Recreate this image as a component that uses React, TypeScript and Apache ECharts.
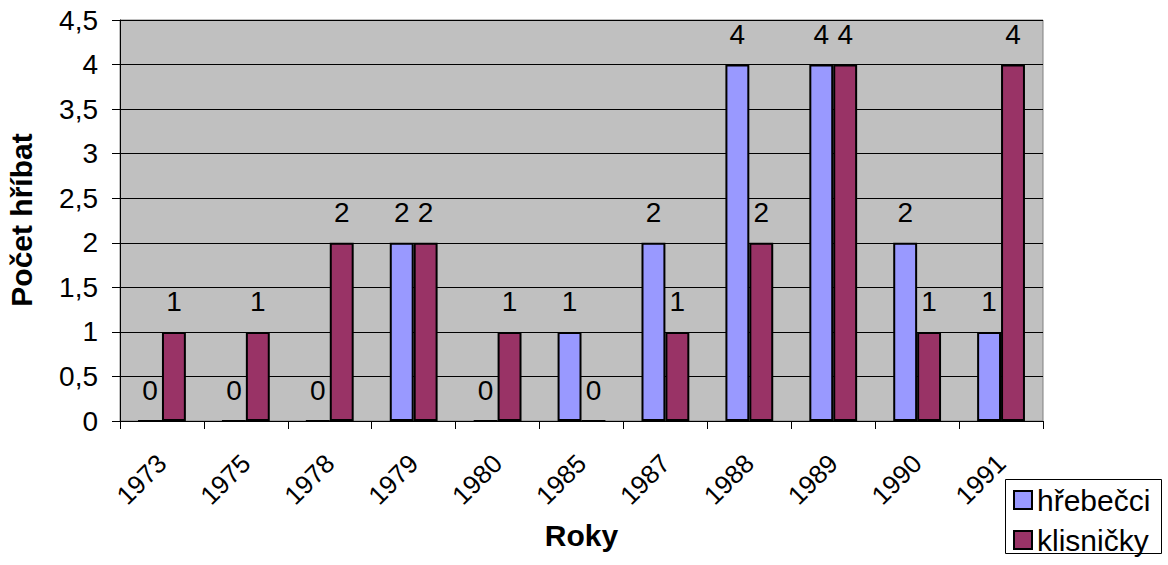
import React, { useEffect, useRef } from "react";
import * as echarts from "echarts";

const categories = ["1973", "1975", "1978", "1979", "1980", "1985", "1987", "1988", "1989", "1990", "1991"];
const hrebecci = [0, 0, 0, 2, 0, 1, 2, 4, 4, 2, 1];
const klisnicky = [1, 1, 2, 2, 1, 0, 1, 2, 4, 1, 4];
const seriesNames = ["hřebečci", "klisničky"];
const xTitle = "Roky";
const yTitle = "Počet hříbat";

const FONT = "'Liberation Sans', Arial, sans-serif";

export default function App() {
  const ref = useRef<HTMLDivElement>(null);
  useEffect(() => {
    document.body.style.margin = "0";
    if (!ref.current) return;
    const chart = echarts.init(ref.current, undefined, { renderer: "svg" });
    const label = {
      show: true,
      position: "top" as const,
      distance: 16,
      color: "#000",
      fontSize: 28,
      fontFamily: FONT,
    };
    chart.setOption({
      animation: false,
      backgroundColor: "#fff",
      textStyle: { fontFamily: FONT },
      grid: {
        left: 120,
        top: 20,
        width: 923,
        height: 401,
        show: true,
        backgroundColor: "#c0c0c0",
        borderColor: "#808080",
        borderWidth: 1,
      },
      legend: {
        orient: "vertical",
        left: 1005,
        top: 479,
        padding: [6, 8, 0, 8],
        itemGap: 10,
        itemWidth: 18,
        itemHeight: 18,
        icon: "rect",
        textStyle: { fontSize: 30, lineHeight: 30, color: "#000", fontFamily: FONT },
        data: seriesNames,
      },
      graphic: [
        {
          type: "rect",
          z: 0,
          shape: { x: 1005.5, y: 479.5, width: 156, height: 74 },
          style: { fill: "#fff", stroke: "#000", lineWidth: 1 },
        },
        {
          type: "text",
          x: 21,
          y: 220,
          rotation: Math.PI / 2,
          style: {
            text: yTitle,
            font: `bold 30px ${FONT}`,
            fill: "#000",
            textAlign: "center",
            textVerticalAlign: "middle",
          },
        },
      ],
      xAxis: {
        type: "category",
        data: categories,
        name: xTitle,
        nameLocation: "middle",
        nameGap: 99,
        nameTextStyle: { fontSize: 30, fontWeight: "bold", color: "#000", fontFamily: FONT },
        axisLine: { lineStyle: { color: "#000", width: 1 } },
        axisTick: { show: true, length: 8, lineStyle: { color: "#000" } },
        axisLabel: { rotate: 45, fontSize: 26, color: "#000", margin: 38, fontFamily: FONT, interval: 0 },
      },
      yAxis: {
        type: "value",
        min: 0,
        max: 4.5,
        interval: 0.5,
        axisLine: { show: true, lineStyle: { color: "#000", width: 1 } },
        axisTick: { show: true, length: 8, lineStyle: { color: "#000" } },
        axisLabel: {
          fontSize: 28,
          color: "#000",
          margin: 22,
          fontFamily: FONT,
          formatter: (v: number) => String(v).replace(".", ","),
        },
        splitLine: { show: true, lineStyle: { color: "#000", width: 1 } },
      },
      series: [
        {
          name: seriesNames[0],
          type: "bar",
          data: hrebecci,
          barGap: "0%",
          barCategoryGap: "43%",
          itemStyle: { color: "#9999ff", borderColor: "#000", borderWidth: 2 },
          label,
        },
        {
          name: seriesNames[1],
          type: "bar",
          data: klisnicky,
          itemStyle: { color: "#993366", borderColor: "#000", borderWidth: 2 },
          label,
        },
      ],
    });
    return () => chart.dispose();
  }, []);
  return <div ref={ref} style={{ width: 1168, height: 565 }} />;
}
